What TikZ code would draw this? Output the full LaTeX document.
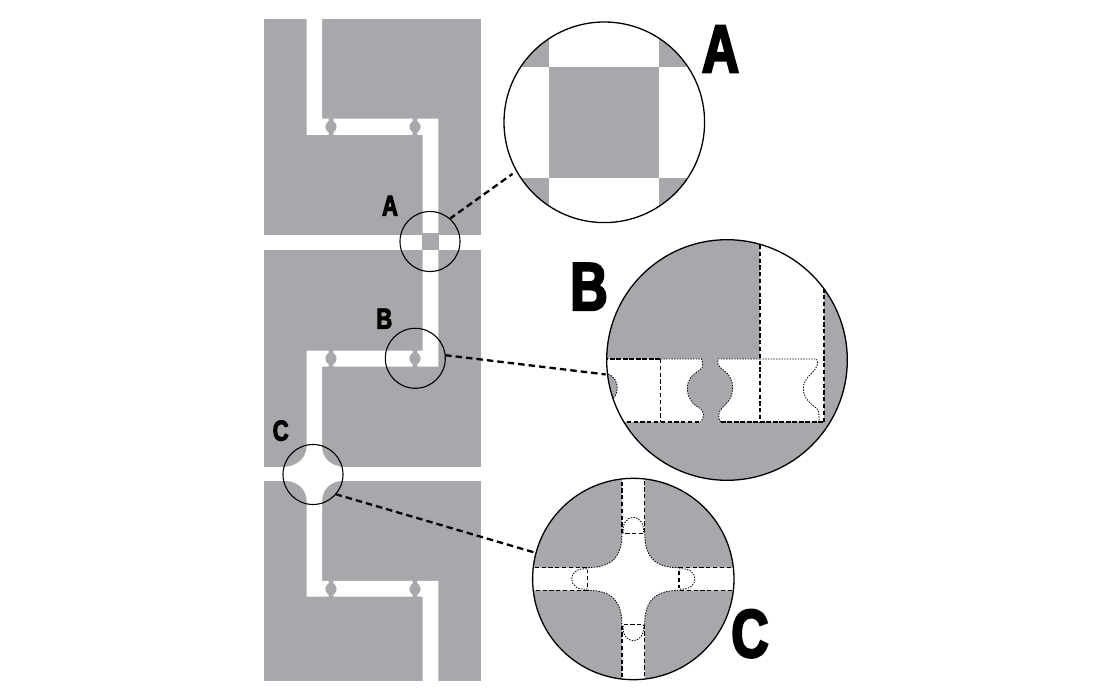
\documentclass[tikz,border=0pt]{standalone}
\usepackage{fontspec}
\newfontfamily\labf{Liberation Sans}[UprightFont=* Bold,FakeStretch=0.76,FakeBold=3.2]
\definecolor{pgrey}{HTML}{A7A8AB}
\tikzset{
  lens/.style={circle,draw=black,inner sep=0pt,outer sep=0pt},
  smalllens/.style={lens,line width=1.1pt,minimum size=60pt},
  biglens/.style={lens,line width=1.3pt},
  conn/.style={line width=2.3pt,dash pattern=on 6.5pt off 4pt},
  bigl/.style={inner sep=0pt,font=\labf\fontsize{68}{68}\selectfont},
  smalll/.style={inner sep=0pt,font=\labf\fontsize{29}{30}\selectfont},
  dsh/.style={line width=1.3pt,dash pattern=on 4.2pt off 2.6pt},
  hdsh/.style={line width=1.5pt,dash pattern=on 5pt off 1.5pt},
  dtd/.style={line width=.85pt,dash pattern=on 1.4pt off 1.3pt},
  bumpshape/.pic={\fill[pgrey] (-2.8,-8.5) -- (-1.9,-6.2) .. controls (-2.2,-5) and (-5.6,-4) .. (-5.6,0) .. controls (-5.6,4) and (-2.2,5) .. (-1.9,6.2) -- (-2.8,8.5) -- (2.8,8.5) -- (1.9,6.2) .. controls (2.2,5) and (5.6,4) .. (5.6,0) .. controls (5.6,-4) and (2.2,-5) .. (1.9,-6.2) -- (2.8,-8.5) -- cycle;}
}
\begin{document}
\begin{tikzpicture}[x=1pt,y=-1pt]
\useasboundingbox (0,0) rectangle (1096,700);
\fill[white] (0,0) rectangle (1096,700);
% panels
\fill[pgrey] (264,19.5) rectangle (481,235.3);
\fill[pgrey] (264,250) rectangle (481,466.7);
\fill[pgrey] (264,480.7) rectangle (481,680.5);
% channels
\fill[white] (306.7,19) -- (322,19) -- (322,118.7) -- (438.3,118.7) -- (438.3,236) -- (422.7,236) -- (422.7,135) -- (306.7,135) -- cycle;
\fill[white] (422.7,249) -- (438.3,249) -- (438.3,366.7) -- (322,366.7) -- (322,467) -- (306.7,467) -- (306.7,350.7) -- (422.7,350.7) -- cycle;
\fill[white] (306.7,480) -- (322,480) -- (322,581) -- (438.3,581) -- (438.3,681) -- (422.7,681) -- (422.7,596.7) -- (306.7,596.7) -- cycle;
% bumps
\foreach \bx in {331,415}{
  \foreach \by in {126.8,358.5,589}{
    \path (\bx,\by) pic {bumpshape};
  }
}
% small A centre
\fill[pgrey] (421.5,232.7) rectangle (439,250);
% small C star
\fill[white] (306.7,446) .. controls (306.7,458) and (297,466.7) .. (284,466.7) -- (307,467) -- cycle;
\fill[white] (322,446) .. controls (322,458) and (331,466.7) .. (344,466.7) -- (321,467) -- cycle;
\fill[white] (306.7,501) .. controls (306.7,489) and (297,480.7) .. (284,480.7) -- (307,480) -- cycle;
\fill[white] (322,501) .. controls (322,489) and (331,480.7) .. (344,480.7) -- (321,480) -- cycle;

% detail A
\begin{scope}
\clip (604.3,122.3) circle (100.3);
\fill[pgrey] (549,67) rectangle (659.3,177.7);
\fill[pgrey] (490,0) rectangle (549,67);
\fill[pgrey] (659.3,0) rectangle (720,67);
\fill[pgrey] (490,177.7) rectangle (549,240);
\fill[pgrey] (659.3,177.7) rectangle (720,240);
\end{scope}

% detail B
\begin{scope}
\clip (727,360) circle (120.3);
\fill[pgrey] (600,230) rectangle (860,490);
\begin{scope}[shift={(560,235)},x=0.3333pt,y=-0.3333pt]
\fill[white] (100,372) -- (425,372) .. controls (428,385) and (432,395) .. (420,405) .. controls (395,420) and (382,435) .. (382,460) .. controls (382,490) and (400,510) .. (420,520) .. controls (432,528) and (435,545) .. (422,561) -- (100,561) -- cycle;
\fill[white] (475,372) .. controls (470,385) and (475,395) .. (490,405) .. controls (508,418) and (518,435) .. (518,460) .. controls (518,490) and (500,505) .. (487,518) .. controls (475,530) and (472,548) .. (482,561) -- (792,561) -- (792,-10) -- (600,-10) -- (600,372) -- cycle;
\fill[pgrey] (145,417) .. controls (165,425) and (172,445) .. (172,460) .. controls (172,470) and (168,480) .. (160,490) -- (100,490) -- (100,417) -- cycle;
\draw[dtd] (145,417) .. controls (165,425) and (172,445) .. (172,460) .. controls (172,470) and (168,480) .. (160,490);
\draw[dtd] (302,372) -- (425,372) .. controls (428,385) and (432,395) .. (420,405) .. controls (395,420) and (382,435) .. (382,460) .. controls (382,490) and (400,510) .. (420,520) .. controls (432,528) and (435,545) .. (422,561);
\draw[dtd] (600,372) -- (475,372) .. controls (470,385) and (475,395) .. (490,405) .. controls (508,418) and (518,435) .. (518,460) .. controls (518,490) and (500,505) .. (487,518) .. controls (475,530) and (472,548) .. (482,561);
\draw[dtd] (600,372) -- (770,372) .. controls (778,385) and (770,400) .. (755,415) .. controls (738,430) and (730,445) .. (730,460) .. controls (730,490) and (755,510) .. (770,520) .. controls (780,530) and (775,545) .. (778,561);
\draw[hdsh] (130,372) -- (302,372);
\draw[dsh] (180,561) -- (422,561);
\draw[hdsh] (482,561) -- (792,561);
\draw[dsh] (302,372) -- (302,561);
\draw[dsh] (600,30) -- (600,561);
\draw[dsh] (792,160) -- (792,561);
\end{scope}
\end{scope}

% detail C
\begin{scope}
\clip (633.3,579) circle (100.7);
\begin{scope}[shift={(633.3,579)},x=0.3333pt,y=-0.3333pt]
\foreach \ang in {0,90,180,270}{
\begin{scope}[rotate=\ang]
\fill[pgrey] (-34,-340) -- (-34,-137) .. controls (-34,-65) and (-65,-34) .. (-140,-34) -- (-340,-34) -- (-340,-340) -- cycle;
\draw[dtd] (-34,-137) .. controls (-34,-65) and (-65,-34) .. (-140,-34);
\draw[dsh] (-34,-137) -- (-34,-320);
\draw[dsh] (-140,-34) -- (-320,-34);
\draw[dsh] (-24,-137) -- (28,-137);
\draw[dtd] (-30,-137) .. controls (-34,-165) and (-20,-185) .. (0,-185) .. controls (20,-185) and (34,-165) .. (30,-137);
\end{scope}
}
\end{scope}
\end{scope}

% lenses
\node[smalllens] (sA) at (430,241.5) {};
\node[smalllens] (sB) at (415.3,358.3) {};
\node[smalllens] (sC) at (313,474.5) {};
\node[biglens,minimum size=200.6pt] (dA) at (604.3,122.3) {};
\node[biglens,minimum size=240.6pt] (dB) at (727,360) {};
\node[biglens,minimum size=201.4pt] (dC) at (633.3,579) {};
% connectors
\draw[conn,shorten >=5pt] (sA.49) -- (dA.209);
\draw[conn,shorten >=2pt] (sB.6) -- (dB.187);
\draw[conn,shorten >=2pt] (sC.-41) -- (dC.165);
% labels
\node[bigl] (lA) at (720.5,49) {A};
\node[bigl] (lB) at (589,286.7) {B};
\node[bigl] (lC) at (750,633.7) {C};
\node[smalll] (mA) at (390,205.7) {A};
\node[smalll] (mB) at (384.3,318.7) {B};
\node[smalll] (mC) at (280.7,430.7) {C};
\end{tikzpicture}
\end{document}
